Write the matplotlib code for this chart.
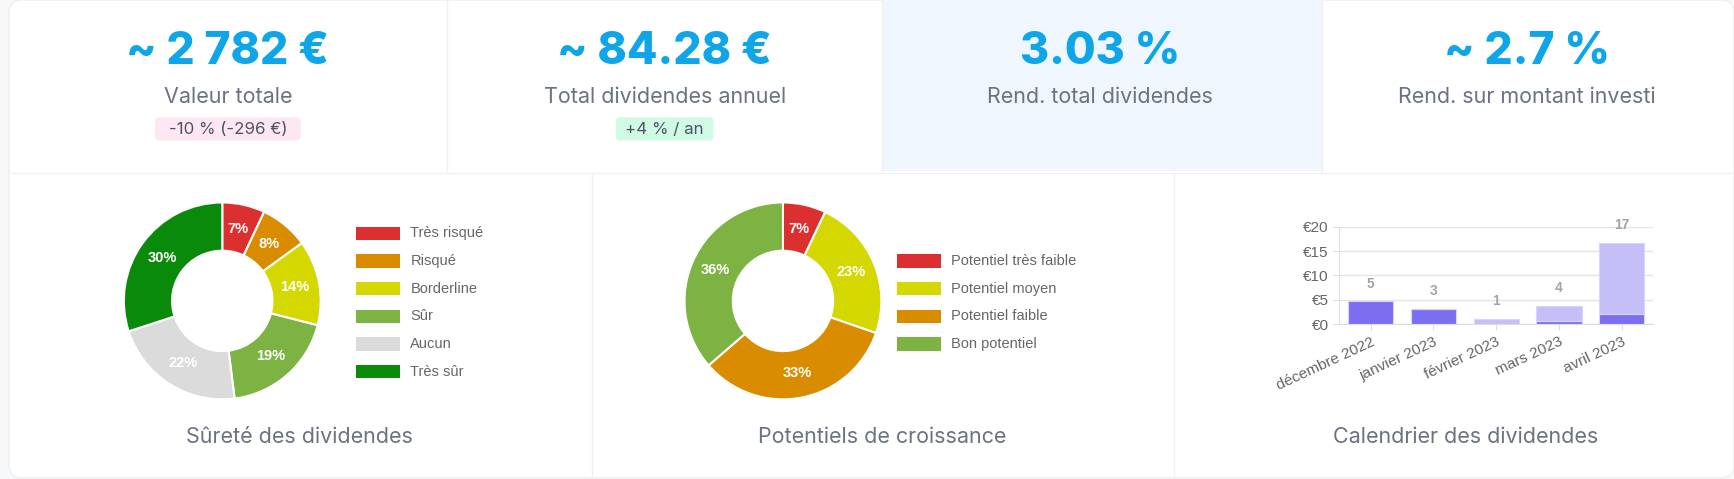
import matplotlib
matplotlib.use("Agg")
import matplotlib.pyplot as plt
from matplotlib.patches import Rectangle, FancyBboxPatch
import numpy as np

W, H = 1568, 433   # layout coordinate space (scaled to 1734x479 output)
S = 1734 / 1568
kpi_values = ["~ 2 782 €", "~ 84.28 €", "3.03 %", "~ 2.7 %"]
kpi_labels = ["Valeur totale", "Total dividendes annuel", "Rend. total dividendes", "Rend. sur montant investi"]
kpi_badges = ["-10 % (-296 €)", "+4 % / an", None, None]
badge_colors = ["#fce7f3", "#d1fae5", None, None]

safety_labels = ["Très risqué", "Risqué", "Borderline", "Sûr", "Aucun", "Très sûr"]
safety_values = [7, 8, 14, 19, 22, 30]
safety_colors = ["#dc3030", "#d98c00", "#d4d800", "#7cb342", "#dcdbdb", "#0a8a0a"]

growth_labels = ["Potentiel très faible", "Potentiel moyen", "Potentiel faible", "Bon potentiel"]
growth_values = [7, 23, 33, 36]
growth_colors = ["#dc3030", "#d4d800", "#d98c00", "#7cb342"]

months = ["décembre 2022", "janvier 2023", "février 2023", "mars 2023", "avril 2023"]
paid = [4.7, 3.1, 0.0, 0.7, 2.0]
expected = [0.0, 0.0, 1.1, 3.1, 14.7]
totals_label = ["5", "3", "1", "4", "17"]
yticks = [0, 5, 10, 15, 20]

ARIAL = "Liberation Sans"

def fs(x):
    return x * S

fig = plt.figure(figsize=(17.34, 4.79), dpi=100)
fig.patch.set_facecolor("#f7f8fa")
bg = fig.add_axes([0, 0, 1, 1]); bg.set_xlim(0, W); bg.set_ylim(H, 0); bg.axis("off")
bg.add_patch(FancyBboxPatch((8, 0), W - 8, 432, boxstyle="round,pad=0,rounding_size=12", fc="white", ec="#eeeeee", lw=1))
bg.add_patch(Rectangle((798, 0), 397, 155, fc="#eff6ff", ec="none"))
for x in [404, 798, 1195]:
    bg.plot([x, x], [0, 155], color="#f0f0f0", lw=1)
bg.plot([8, W], [156, 156], color="#f0f0f0", lw=1)
for x in [535, 1062]:
    bg.plot([x, x], [156, 432], color="#f0f0f0", lw=1)

centers = [206, 601, 995, 1381]
for i, c in enumerate(centers):
    bg.text(c, 47, kpi_values[i], ha="center", va="center", fontsize=fs(29), fontweight="heavy", color="#0ea5e9", family="Inter")
    bg.text(c, 88, kpi_labels[i], ha="center", va="center", fontsize=fs(14), color="#6b7280", family="Inter")
    if kpi_badges[i]:
        t = kpi_badges[i]
        w = len(t) * 8.7 + 10
        bg.add_patch(FancyBboxPatch((c - w/2, 106), w, 21, boxstyle="round,pad=0,rounding_size=4", fc=badge_colors[i], ec="none"))
        bg.text(c, 117, t, ha="center", va="center", fontsize=fs(11), color="#4b5563", family="Inter")

titles = [("Sûreté des dividendes", 271), ("Potentiels de croissance", 798), ("Calendrier des dividendes", 1325)]
for t, x in titles:
    bg.text(x, 395, t, ha="center", va="center", fontsize=fs(14), color="#6b7280", family="Inter")

def donut(cx, cy, r, vals, cols):
    ax = fig.add_axes([(cx - r)/W, 1 - (cy + r)/H, 2*r/W, 2*r/H])
    ax.pie(vals, colors=cols, startangle=90, counterclock=False, radius=1,
           wedgeprops=dict(width=0.49, edgecolor="white", linewidth=1.5))
    tot = sum(vals); ang = 90
    for v in vals:
        mid = np.deg2rad(ang - v/tot*360/2)
        ax.text(0.75*np.cos(mid), 0.75*np.sin(mid), f"{v}%", ha="center", va="center",
                color="white", fontsize=fs(9.5), fontweight="bold", family=ARIAL)
        ang -= v/tot*360
    ax.set_xlim(-1, 1); ax.set_ylim(-1, 1); ax.set_aspect("equal")

donut(201, 272, 89, safety_values, safety_colors)
donut(708, 272, 89, growth_values, growth_colors)

def legend(x, y0, labels, cols):
    for i, (l, c) in enumerate(zip(labels, cols)):
        y = y0 + i*25
        bg.add_patch(Rectangle((x, y - 6), 40, 12, fc=c, ec="none"))
        bg.text(x + 49, y, l, va="center", fontsize=fs(9.5), color="#666666", family=ARIAL)

legend(322, 211, safety_labels, safety_colors)
legend(811, 236, growth_labels, growth_colors)

ax = fig.add_axes([1211/W, 1 - 293/H, 284/W, 88/H])
xs = np.arange(len(months))
ax.bar(xs, paid, width=0.72, color="#7b6ef0", edgecolor="#d8d4ff", lw=0.8)
ax.bar(xs, expected, bottom=paid, width=0.72, color="#c4bff7", edgecolor="#d8d4ff", lw=0.8)
for i, l in enumerate(totals_label):
    ax.text(xs[i], paid[i] + expected[i] + 2.2, l, ha="center", va="bottom", fontsize=fs(9), fontweight="bold", color="#a8a29e", family=ARIAL)
ax.set_ylim(0, 20); ax.set_xlim(-0.5, 4.5)
ax.set_yticks(yticks); ax.set_yticklabels([f"€{v}" for v in yticks], fontsize=fs(10), color="#666666", family=ARIAL)
ax.set_xticks(xs); ax.set_xticklabels(months, rotation=25, ha="right", rotation_mode="anchor", fontsize=fs(10), color="#666666", family=ARIAL)
ax.grid(axis="y", color="#e5e5e5", lw=1); ax.set_axisbelow(True)
for s in ["top", "right"]: ax.spines[s].set_visible(False)
for s in ["left", "bottom"]: ax.spines[s].set_color("#dddddd")
ax.tick_params(length=4, color="#dddddd")
ax.set_facecolor("white")

fig.savefig("out.png", dpi=100, facecolor=fig.get_facecolor())
